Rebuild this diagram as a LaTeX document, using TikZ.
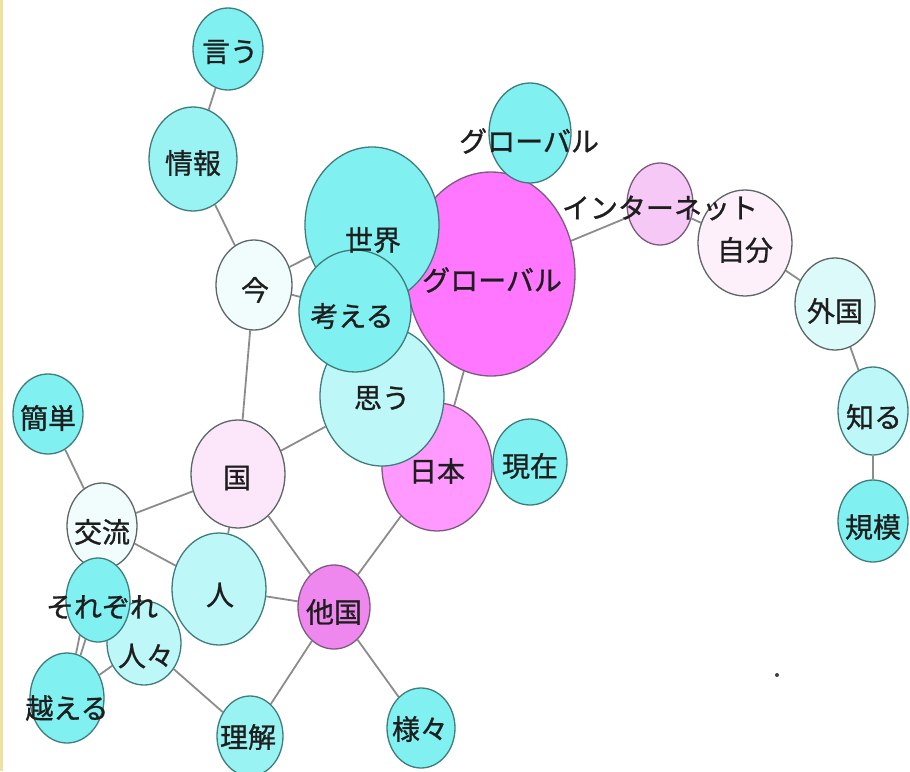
\documentclass[tikz,border=0pt]{standalone}
\usepackage{fontspec}
\newfontfamily\jpfont[FakeBold=0.9]{Noto Sans CJK JP}
\usetikzlibrary{shapes.geometric}
\pgfdeclarelayer{bg}
\pgfdeclarelayer{fg}
\pgfsetlayers{bg,main,fg}
\definecolor{cyA}{HTML}{80F0F0}
\definecolor{cyB}{HTML}{9AF3F3}
\definecolor{cyC}{HTML}{BEF7F7}
\definecolor{cyD}{HTML}{DDFAFA}
\definecolor{cyE}{HTML}{F1FDFD}
\definecolor{mgA}{HTML}{FF77FF}
\definecolor{mgB}{HTML}{FF99FF}
\definecolor{mgC}{HTML}{EE88EE}
\definecolor{mgD}{HTML}{F5C8F5}
\definecolor{mgE}{HTML}{FCE6FA}
\definecolor{mgF}{HTML}{FDF0FA}
\definecolor{lnC}{HTML}{3F7C7C}
\definecolor{lnG}{HTML}{5C6666}
\definecolor{lnM}{HTML}{7D5A7D}
\definecolor{edgec}{HTML}{8C8C8C}
\definecolor{txt}{HTML}{1E1E1E}
\definecolor{strip}{HTML}{F2DFA2}
\tikzset{
  bub/.style={ellipse, inner sep=0pt, line width=1.3pt},
  lbl/.style={font=\jpfont\fontsize{28}{28}\selectfont, text=txt, inner sep=0pt},
  conn/.style={draw=edgec, line width=1.8pt},
}
\newcommand\mkbub[7]{\node[bub, fill=#6, draw=#7, minimum width=#4pt, minimum height=#5pt] (#1) at (#2,#3) {};}
\begin{document}
\begin{tikzpicture}[x=1pt,y=-1pt]
\useasboundingbox (0,0) rectangle (910,771);

% bubbles (drawing order matters)
\mkbub{iu}{228}{49}{70}{82}{cyA}{lnC}
\mkbub{joho}{193}{159}{88}{104}{cyB}{lnC}
\mkbub{ima}{254}{285}{76}{90}{cyE}{lnG}
\mkbub{glob}{491}{274}{168}{204}{mgA}{lnM}
\mkbub{sekai}{372}{225}{134}{156}{cyA}{lnC}
\mkbub{globs}{530}{133}{82}{100}{cyA}{lnC}
\mkbub{net}{660}{204}{66}{82}{mgD}{lnM}
\mkbub{jibun}{745}{243}{94}{106}{mgF}{lnG}
\mkbub{gaikoku}{835}{304}{80}{92}{cyD}{lnG}
\mkbub{shiru}{873}{411}{70}{88}{cyC}{lnC}
\mkbub{kibo}{873}{521}{70}{82}{cyA}{lnC}
\mkbub{nihon}{437}{467}{110}{128}{mgB}{lnM}
\mkbub{omou}{382}{396}{124}{140}{cyC}{lnC}
\mkbub{kangaeru}{355}{311}{112}{122}{cyA}{lnC}
\mkbub{genzai}{530}{462}{74}{86}{cyA}{lnC}
\mkbub{takoku}{334}{607}{72}{84}{mgC}{lnM}
\mkbub{samazama}{421}{728}{68}{80}{cyA}{lnC}
\mkbub{kuni}{238}{474}{94}{108}{mgE}{lnG}
\mkbub{kantan}{48}{414}{70}{80}{cyA}{lnC}
\mkbub{koryu}{102}{526}{70}{86}{cyE}{lnG}
\mkbub{hito}{219}{589}{94}{112}{cyC}{lnC}
\mkbub{hitobito}{144}{643}{74}{84}{cyC}{lnC}
\mkbub{sorezore}{98}{600}{64}{84}{cyA}{lnC}
\mkbub{koeru}{67}{698}{74}{90}{cyA}{lnC}
\mkbub{rikai}{250}{736}{66}{80}{cyB}{lnC}

% background and connectors
\begin{pgfonlayer}{bg}
\fill[white] (0,0) rectangle (910,771);
\fill[strip] (0,0) rectangle (2.5,771);
\draw[conn] (iu) -- (joho);
\draw[conn] (joho) -- (ima);
\draw[conn] (ima) -- (sekai);
\draw[conn] (ima) -- (kangaeru);
\draw[conn] (ima) -- (kuni);
\draw[conn] (kuni) -- (omou);
\draw[conn] (kuni) -- (koryu);
\draw[conn] (kuni) -- (hito);
\draw[conn] (kuni) -- (takoku);
\draw[conn] (koryu) -- (kantan);
\draw[conn] (koryu) -- (hito);
\draw[conn] (koryu) -- (koeru);
\draw[conn] (sorezore) -- (koeru);
\draw[conn] (hitobito) -- (koeru);
\draw[conn] (hitobito) -- (rikai);
\draw[conn] (hito) -- (takoku);
\draw[conn] (takoku) -- (rikai);
\draw[conn] (takoku) -- (samazama);
\draw[conn] (takoku) -- (nihon);
\draw[conn] (nihon) -- (glob);
\draw[conn] (nihon) -- (genzai);
\draw[conn] (glob) -- (net);
\draw[conn] (net) -- (jibun);
\draw[conn] (jibun) -- (gaikoku);
\draw[conn] (gaikoku) -- (shiru);
\draw[conn] (shiru) -- (kibo);
\end{pgfonlayer}

% labels
\begin{pgfonlayer}{fg}
\node[lbl] (iu-t) at (230,52) {言う};
\node[lbl] (joho-t) at (193,163) {情報};
\node[lbl] (ima-t) at (255,290) {今};
\node[lbl] (sekai-t) at (373,240) {世界};
\node[lbl] (kangaeru-t) at (352,316) {考える};
\node[lbl] (glob-t) at (492,280) {グローバル};
\node[lbl] (globs-t) at (529,141) {グローバル};
\node[lbl] (net-t) at (660,208) {インターネット};
\node[lbl] (jibun-t) at (745,250) {自分};
\node[lbl] (gaikoku-t) at (835,311) {外国};
\node[lbl] (shiru-t) at (874,417) {知る};
\node[lbl] (kibo-t) at (873,527) {規模};
\node[lbl] (omou-t) at (382,398) {思う};
\node[lbl] (nihon-t) at (437,471) {日本};
\node[lbl] (genzai-t) at (530,466) {現在};
\node[lbl] (takoku-t) at (334,612) {他国};
\node[lbl] (samazama-t) at (420,729) {様々};
\node[lbl] (kuni-t) at (237,478) {国};
\node[lbl] (kantan-t) at (48,418) {簡単};
\node[lbl] (koryu-t) at (102,532) {交流};
\node[lbl] (hito-t) at (220,595) {人};
\node[lbl] (sorezore-t) at (102,607) {それぞれ};
\node[lbl] (hitobito-t) at (146,656) {人々};
\node[lbl] (koeru-t) at (67,708) {越える};
\node[lbl] (rikai-t) at (248,737) {理解};
\fill[black!75] (777,675) circle (2);
\end{pgfonlayer}
\end{tikzpicture}
\end{document}
